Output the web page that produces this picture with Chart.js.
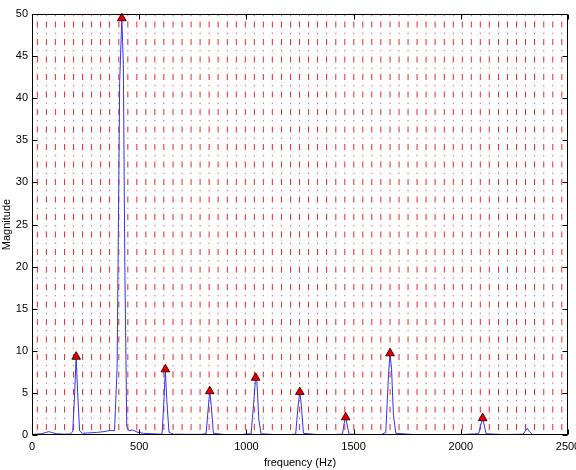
<!DOCTYPE html>
<html><head><meta charset="utf-8">
<script src="https://cdn.jsdelivr.net/npm/chart.js@4"></script>
<style>html,body{margin:0;padding:0;background:#fff}</style>
</head><body>
<canvas id="c" width="576" height="470" style="width:576px;height:470px;display:block"></canvas>
<script>
// Spectrum (blue line)
const spectrumFreq = [0,20,45,65,78,92,115,150,178,190,199,206,213,222,234,265,300,335,365,385,397,409,419,426,433,442,452,470,490,520,560,600,607,616,622,629,639,660,720,790,812,822,829,836,846,900,970,1022,1034,1043,1049,1058,1068,1130,1200,1230,1240,1249,1256,1266,1330,1400,1448,1456,1463,1470,1479,1560,1630,1650,1663,1670,1677,1686,1697,1780,1900,2000,2083,2094,2102,2109,2118,2200,2290,2300,2310,2320,2335,2420,2500];
const spectrumMag  = [0.05,0.1,0.15,0.3,0.4,0.3,0.15,0.1,0.12,0.4,5.0,9.3,5.0,0.5,0.2,0.25,0.3,0.4,0.55,0.5,8,42,49.5,44,20,1.0,0.5,0.6,0.35,0.2,0.15,0.1,0.2,4.5,7.8,4,0.3,0.1,0.08,0.08,0.15,3.2,5.2,3.5,0.2,0.05,0.05,0.15,3.8,6.8,6.3,1.8,0.15,0.05,0.05,0.1,3.2,5.1,3.6,0.2,0.05,0.05,0.1,1.4,2.1,1.2,0.1,0.05,0.05,0.3,7.2,9.7,7.8,2.3,0.2,0.05,0.05,0.05,0.15,1.3,2.0,1.2,0.15,0.05,0.1,0.45,0.8,0.4,0.05,0.05,0.05];
// Detected peaks (red triangles)
const peakFreq = [206,419,622,829,1043,1249,1463,1670,2102];
const peakMag  = [9.3,49.5,7.8,5.2,6.8,5.1,2.1,9.7,2.0];
// Red dash-dot vertical marker lines (Hz)
const markerLines = [25,67,109,152,194,236,278,320,362,405,447,489,531,573,615,658,700,742,784,826,868,911,953,995,1037,1079,1121,1164,1206,1248,1290,1332,1374,1417,1459,1501,1543,1585,1627,1670,1712,1754,1796,1838,1880,1923,1965,2007,2049,2091,2133,2176,2218,2260,2302,2344,2387,2429,2471];
// Axes
const xTicks = [0,500,1000,1500,2000,2500];
const yTicks = [0,5,10,15,20,25,30,35,40,45,50];
const xTitle = 'frequency (Hz)';
const yTitle = 'Magnitude';

const FONT = "'Liberation Sans', Arial, Helvetica, sans-serif";

const datasets = [];
markerLines.forEach(f => {
  datasets.push({
    type: 'line',
    data: [{x: f, y: yTicks[0]}, {x: f, y: yTicks[yTicks.length - 1]}],
    borderColor: 'rgb(235,40,40)',
    borderWidth: 1,
    borderDash: [6, 5.25, 1, 5.25],
    borderDashOffset: 12.5,
    pointRadius: 0,
    order: 3
  });
});
datasets.push({
  type: 'line',
  data: spectrumFreq.map((f, i) => ({x: f, y: spectrumMag[i]})),
  borderColor: 'rgb(50,50,235)',
  borderWidth: 1,
  pointRadius: 0,
  tension: 0,
  order: 2
});
datasets.push({
  type: 'scatter',
  data: peakFreq.map((f, i) => ({x: f, y: peakMag[i]})),
  pointStyle: 'triangle',
  pointRadius: 5,
  backgroundColor: 'rgb(220,0,0)',
  borderColor: 'rgb(90,0,0)',
  borderWidth: 1,
  clip: false,
  order: 1
});

const frame = {
  id: 'frame',
  afterDatasetsDraw(chart) {
    const {ctx, chartArea: a, scales: {x, y}} = chart;
    ctx.save();
    ctx.strokeStyle = '#000';
    ctx.lineWidth = 1;
    const L = Math.round(a.left) + 0.5, R = Math.round(a.right) - 0.5;
    const T = Math.round(a.top) + 0.5, B = Math.round(a.bottom) - 0.5;
    ctx.beginPath();
    ctx.rect(L, T, R - L, B - T);
    const tl = 5;
    xTicks.forEach(v => {
      const px = Math.round(x.getPixelForValue(v)) + 0.5;
      ctx.moveTo(px, B); ctx.lineTo(px, B - tl);
      ctx.moveTo(px, T); ctx.lineTo(px, T + tl);
    });
    yTicks.forEach(v => {
      const py = Math.round(y.getPixelForValue(v)) + 0.5;
      ctx.moveTo(L, py); ctx.lineTo(L + tl, py);
      ctx.moveTo(R, py); ctx.lineTo(R - tl, py);
    });
    ctx.stroke();
    ctx.restore();
  }
};

new Chart(document.getElementById('c'), {
  data: {datasets},
  plugins: [frame],
  options: {
    responsive: false,
    animation: false,
    events: [],
    layout: {padding: {top: 14, right: 8, left: 0, bottom: 0}},
    plugins: {legend: {display: false}, tooltip: {enabled: false}},
    scales: {
      x: {
        type: 'linear', min: 0, max: 2500,
        afterBuildTicks: s => { s.ticks = xTicks.map(v => ({value: v})); },
        afterFit: s => { s.height = 35; s.paddingLeft = 0; s.paddingRight = 0; },
        grid: {display: false, drawTicks: false},
        border: {display: false},
        ticks: {padding: 5, color: '#000', font: {family: FONT, size: 11}, maxRotation: 0, autoSkip: false, callback: v => String(v)},
        title: {display: true, text: xTitle, color: '#000', font: {family: FONT, size: 11}, padding: {top: 2, bottom: 0}}
      },
      y: {
        type: 'linear', min: 0, max: 50,
        afterBuildTicks: s => { s.ticks = yTicks.map(v => ({value: v})); },
        afterFit: s => { s.width = 32; s.paddingTop = 0; s.paddingBottom = 0; },
        grid: {display: false, drawTicks: false},
        border: {display: false},
        ticks: {padding: 4, color: '#000', font: {family: FONT, size: 11}, callback: v => String(v)},
        title: {display: true, text: yTitle, color: '#000', font: {family: FONT, size: 11}, padding: {top: 0, bottom: 0}}
      }
    }
  }
});
</script>
</body></html>
